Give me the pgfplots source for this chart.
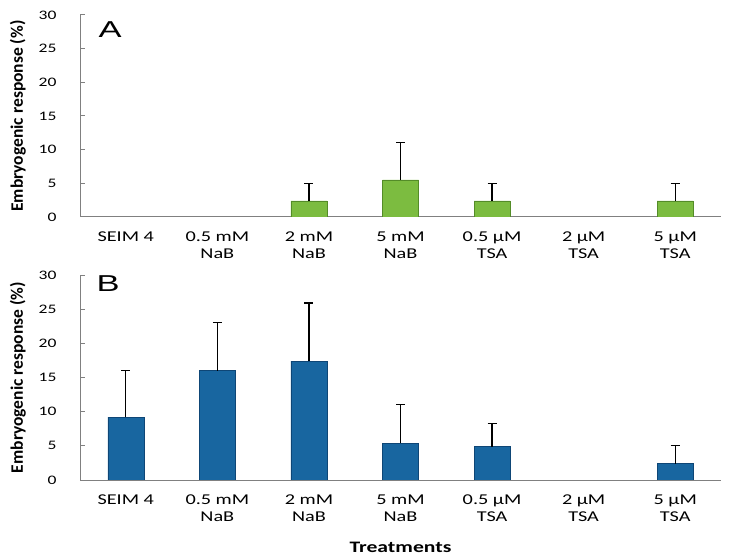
\documentclass[border=0pt]{standalone}
\usepackage{fontspec}
\setmainfont{Carlito}[FakeStretch=1.35]
\newfontfamily\ylabfont{Carlito}
\newfontfamily\panelfont{Liberation Sans}[FakeStretch=1.5]
\usepackage{pgfplots}
\pgfplotsset{compat=1.18}
\definecolor{barG}{RGB}{124,188,64}
\definecolor{barGd}{RGB}{84,140,40}
\definecolor{barB}{RGB}{24,102,160}
\definecolor{barBd}{RGB}{14,70,118}
\definecolor{axg}{RGB}{128,128,128}
\pgfplotsset{
 panel/.style={
  scale only axis, width=641bp,
  xmin=-0.5, xmax=6.5, ymin=0, ymax=30,
  axis x line*=bottom, axis y line*=left,
  axis line style={axg, line width=1bp},
  xtick={0,...,6},
  xticklabels={SEIM 4,{0.5 mM\\NaB},{2 mM\\NaB},{5 mM\\NaB},{0.5 µM\\TSA},{2 µM\\TSA},{5 µM\\TSA}},
  x tick style={draw=none},
  ytick={0,5,...,30},
  tick align=inside, major tick length=5bp,
  y tick style={axg, line width=1bp},
  /pgf/number format/assume math mode=true,
  yticklabel style={font=\fontsize{13bp}{15bp}\selectfont, anchor=east, xshift=-20bp},
  xticklabel style={font=\fontsize{15bp}{17bp}\selectfont, align=center, anchor=north, yshift=-6bp},
  ylabel={Embryogenic response (\%)},
  ylabel style={font=\ylabfont\bfseries\fontsize{17.5bp}{20bp}\selectfont,
     at={(axis description cs:-0.097,0.5)}, anchor=center},
  ybar, bar width=36bp,
  error bars/y dir=plus, error bars/y explicit,
  error bars/error bar style={black, line width=1.2bp},
  error bars/error mark options={rotate=90, mark size=4.5bp, line width=1.2bp, black},
 }
}
\begin{document}
\begin{tikzpicture}
\useasboundingbox (0,0) rectangle (730bp,560bp);
\begin{axis}[panel, height=202bp, at={(80bp,343bp)}, anchor=south west]
\addplot[fill=barG, draw=barGd] coordinates {
 (2,2.4) +- (0,2.6)
 (3,5.5) +- (0,5.6)
 (4,2.4) +- (0,2.6)
 (6,2.4) +- (0,2.6)
};
\node[font=\panelfont\fontsize{23bp}{25bp}\selectfont] at (rel axis cs:0.047,0.926) {A};
\end{axis}
\begin{axis}[panel, height=205bp, at={(80bp,80bp)}, anchor=south west,
  xlabel={Treatments},
  xlabel style={font=\bfseries\fontsize{16bp}{18bp}\selectfont, yshift=-14bp}]
\addplot[fill=barB, draw=barBd] coordinates {
 (0,9.2) +- (0,6.8)
 (1,16.0) +- (0,7.0)
 (2,17.4) +- (0,8.5)
 (3,5.4) +- (0,5.7)
 (4,4.9) +- (0,3.4)
 (6,2.4) +- (0,2.6)
};
\node[font=\panelfont\fontsize{23bp}{25bp}\selectfont] at (rel axis cs:0.044,0.96) {B};
\end{axis}
\end{tikzpicture}
\end{document}
